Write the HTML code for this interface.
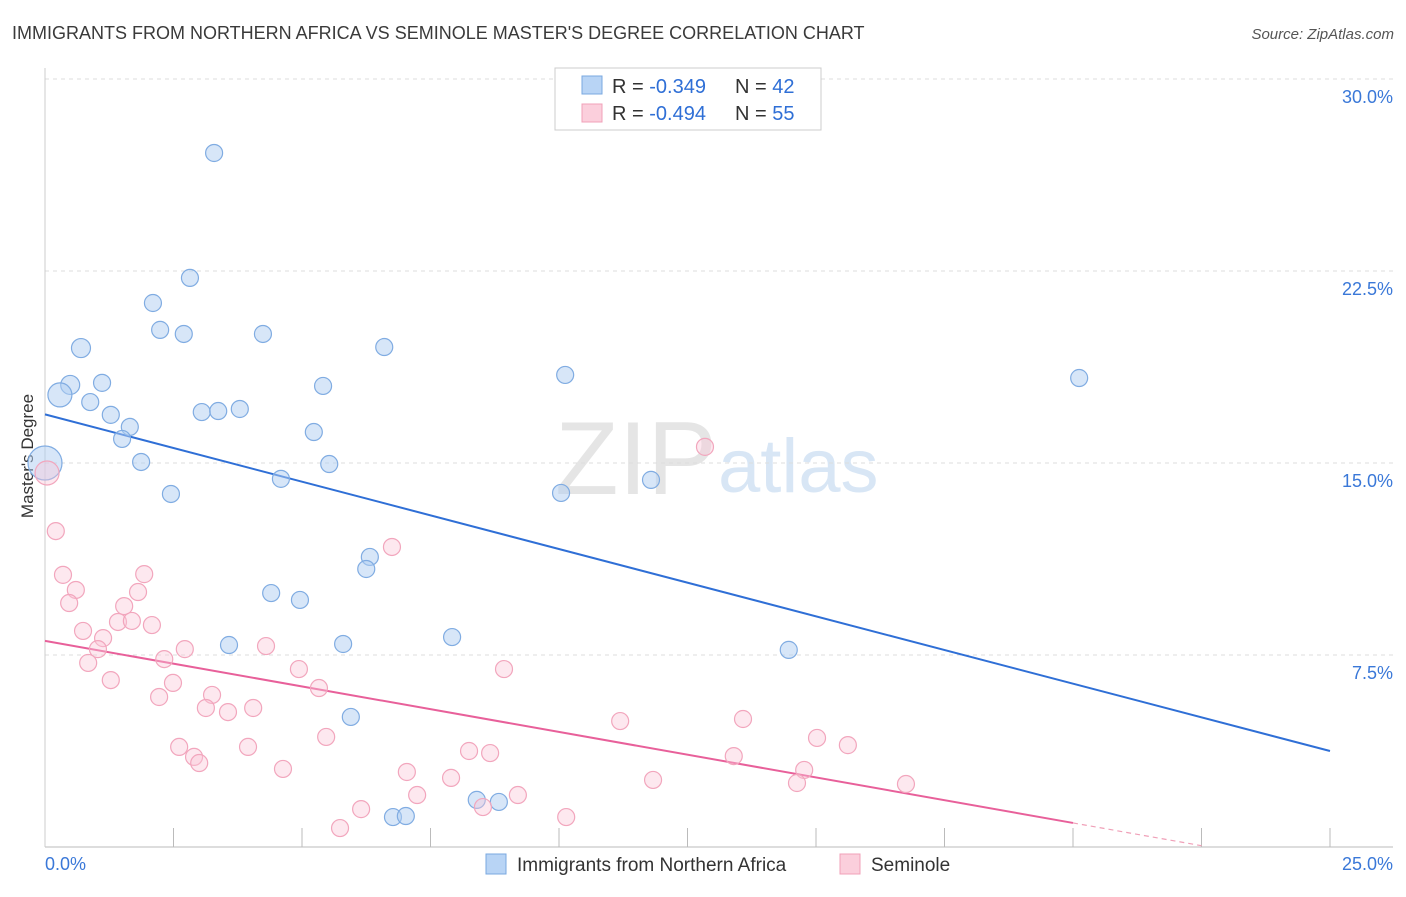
<!DOCTYPE html>
<html><head><meta charset="utf-8"><style>
body{margin:0;background:#fff;font-family:"Liberation Sans",sans-serif;}
svg text{font-family:"Liberation Sans",sans-serif;}
</style></head><body>
<svg id="c" width="1406" height="892" viewBox="0 0 1406 892">
<text x="12" y="39" font-size="18" fill="#3a3a3a">IMMIGRANTS FROM NORTHERN AFRICA VS SEMINOLE MASTER'S DEGREE CORRELATION CHART</text>
<text x="1394" y="39" font-size="15" fill="#555" text-anchor="end" font-style="italic">Source: ZipAtlas.com</text>
<text x="33" y="456" font-size="17" fill="#333" text-anchor="middle" transform="rotate(-90 33 456)">Master's Degree</text>
<g><text x="555" y="494" font-size="104" fill="#ddd" font-family="Liberation Serif" opacity="0.75">ZIP</text><text x="718" y="492" font-size="76" fill="#c8dcf2" opacity="0.7">atlas</text></g>
<g id="grid"></g><g id="axes"></g><g id="lines"></g><g id="pts"></g>
<g>
<rect x="555" y="68" width="266" height="62" fill="#fff" stroke="#ccc"/>
<rect x="582" y="76" width="20" height="18" fill="#b8d4f5" stroke="#7aa8e0"/>
<text x="612" y="93" font-size="20" fill="#333">R = <tspan fill="#2f6fd6">-0.349</tspan></text>
<text x="735" y="93" font-size="20" fill="#333">N = <tspan fill="#2f6fd6">42</tspan></text>
<rect x="582" y="104" width="20" height="18" fill="#fbcfdc" stroke="#f0a0b8"/>
<text x="612" y="120" font-size="20" fill="#333">R = <tspan fill="#2f6fd6">-0.494</tspan></text>
<text x="735" y="120" font-size="20" fill="#333">N = <tspan fill="#2f6fd6">55</tspan></text>
</g>
<g>
<rect x="486" y="854" width="20" height="20" fill="#b8d4f5" stroke="#7aa8e0"/>
<text x="517" y="871" font-size="19" fill="#333">Immigrants from Northern Africa</text>
<rect x="840" y="854" width="20" height="20" fill="#fbcfdc" stroke="#f0a0b8"/>
<text x="871" y="871" font-size="19" fill="#333">Seminole</text>
</g>
</svg>
<script>
const yTicks=[7.5,15,22.5,30];
const yTickLabels=["7.5%","15.0%","22.5%","30.0%"];
const blueX=[3.29,2.82,2.10,2.24,2.70,4.24,0.70,6.60,0.49,1.11,5.41,10.12,20.12,0.29,0.88,1.28,3.05,3.37,3.79,1.65,1.50,5.23,0,1.87,5.53,4.59,2.45,10.04,11.79,6.32,6.25,4.40,4.96,7.92,3.58,5.80,14.47,5.95,8.40,8.83,6.77,7.02];
const blueY=[27.11,22.23,21.25,20.20,20.04,20.04,19.49,19.53,18.05,18.13,18.01,18.44,18.32,17.66,17.38,16.88,16.99,17.03,17.11,16.41,15.94,16.21,15.0,15.04,14.96,14.38,13.79,13.83,14.34,11.33,10.86,9.92,9.65,8.20,7.89,7.93,7.70,5.08,1.84,1.76,1.17,1.21];
const blueR=[8.5,8.5,8.5,8.5,8.5,8.5,9.5,8.5,9.5,8.5,8.5,8.5,8.5,12,8.5,8.5,8.5,8.5,8.5,8.5,8.5,8.5,17,8.5,8.5,8.5,8.5,8.5,8.5,8.5,8.5,8.5,8.5,8.5,8.5,8.5,8.5,8.5,8.5,8.5,8.5,8.5];
const pinkX=[0.04,0.21,0.35,1.93,0.60,1.81,0.47,1.54,1.42,1.69,2.08,0.74,1.13,1.03,2.72,4.30,0.84,2.32,4.94,1.28,2.49,5.33,2.22,3.25,3.13,3.56,4.05,8.93,6.75,12.84,2.61,3.95,2.90,3.00,4.63,5.47,11.19,13.58,15.02,15.62,8.25,8.66,13.40,7.04,7.90,11.83,14.77,14.63,16.75,7.24,9.20,6.15,8.52,5.74,10.14];
const pinkY=[14.61,12.34,10.63,10.66,10.04,9.96,9.53,9.41,8.79,8.83,8.67,8.44,8.16,7.73,7.73,7.85,7.19,7.34,6.95,6.52,6.41,6.21,5.86,5.94,5.43,5.27,5.43,6.95,11.72,15.63,3.91,3.91,3.52,3.28,3.05,4.30,4.92,5.00,4.26,3.98,3.75,3.67,3.55,2.93,2.70,2.62,3.01,2.50,2.46,2.03,2.03,1.48,1.56,0.74,1.17];
const blueLine=[16.9,3.75];
const pinkLine=[8.05,0.94,20];
const NS="http://www.w3.org/2000/svg";
const X=v=>45+v*51.4, Y=v=>847-v*25.6;
function mk(t,a,p){const e=document.createElementNS(NS,t);for(const k in a)e.setAttribute(k,a[k]);p.appendChild(e);return e;}
const grid=document.getElementById('grid'),axes=document.getElementById('axes'),lines=document.getElementById('lines'),pts=document.getElementById('pts');
yTicks.forEach((t,i)=>{
 const g=mk('line',{x1:45,x2:1393,y1:Y(t),y2:Y(t),stroke:'#ddd','stroke-dasharray':'4,4'},grid);
 
 
 const l=mk('text',{x:1393,y:Y(t)+24,'font-size':18,fill:'#3a78d8','text-anchor':'end'},axes);l.textContent=yTickLabels[i];
 
 
});
const xa=mk('line',{x1:45,x2:1393,y1:847,y2:847,stroke:'#bbb'},axes);


const ya=mk('line',{x1:45,x2:45,y1:68,y2:847,stroke:'#ccc'},axes);


for(let i=1;i<=10;i++){const t=mk('line',{x1:X(i*2.5),x2:X(i*2.5),y1:828,y2:847,stroke:'#bbb'},axes);
 
 }
const x0=mk('text',{x:45,y:870,'font-size':18,fill:'#3a78d8'},axes);x0.textContent='0.0%';


const x1=mk('text',{x:1393,y:870,'font-size':18,fill:'#3a78d8','text-anchor':'end'},axes);x1.textContent='25.0%';


blueX.forEach((v,i)=>{const c=mk('circle',{cx:X(v),cy:Y(blueY[i]),r:blueR[i],fill:'rgba(175,205,242,0.5)',stroke:'#80ace2','stroke-width':1.2},pts);
 
 });
pinkX.forEach((v,i)=>{const c=mk('circle',{cx:X(v),cy:Y(pinkY[i]),r:i==0?12:8.5,fill:'rgba(250,198,214,0.4)',stroke:'#f2a6bd','stroke-width':1.2},pts);
 
 });
const bl=mk('line',{x1:X(0),y1:Y(blueLine[0]),x2:X(25),y2:Y(blueLine[1]),stroke:'#2f6fd6','stroke-width':2},lines);


const pl=mk('line',{x1:X(0),y1:Y(pinkLine[0]),x2:X(pinkLine[2]),y2:Y(pinkLine[1]),stroke:'#e8609a','stroke-width':2},lines);


const slope=(pinkLine[1]-pinkLine[0])/pinkLine[2];
const pd=mk('line',{x1:X(pinkLine[2]),y1:Y(pinkLine[1]),x2:X(22.5),y2:Y(pinkLine[0]+slope*22.5),stroke:'#f0a0b8','stroke-width':1.2,'stroke-dasharray':'5,4'},lines);


</script>
</body></html>
